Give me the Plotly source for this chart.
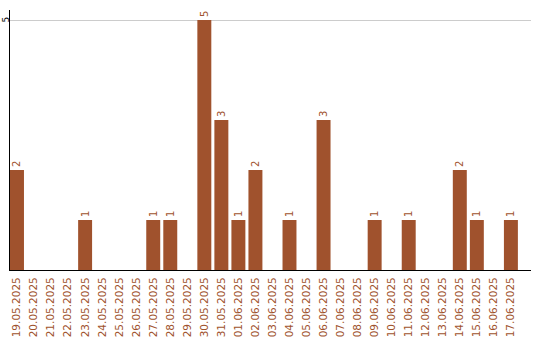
import plotly.graph_objects as go

dates = ["19.05.2025","20.05.2025","21.05.2025","22.05.2025","23.05.2025","24.05.2025",
         "25.05.2025","26.05.2025","27.05.2025","28.05.2025","29.05.2025","30.05.2025",
         "31.05.2025","01.06.2025","02.06.2025","03.06.2025","04.06.2025","05.06.2025",
         "06.06.2025","07.06.2025","08.06.2025","09.06.2025","10.06.2025","11.06.2025",
         "12.06.2025","13.06.2025","14.06.2025","15.06.2025","16.06.2025","17.06.2025"]
counts = [2,0,0,0,1,0,0,0,1,1,0,5,3,1,2,0,1,0,3,0,0,1,0,1,0,0,2,1,0,1]
labels = [str(v) if v else "" for v in counts]
y_ticks = [5]

BROWN = "#a0522d"
FONT = "DejaVu Sans"

fig = go.Figure(go.Bar(
    x=dates, y=counts, text=labels, textposition="outside", textangle=-90,
    textfont=dict(family=FONT, size=10, color=BROWN),
    marker=dict(color=BROWN, line=dict(width=0)), width=0.82,
    cliponaxis=False, hoverinfo="skip"))

for t in y_ticks:
    fig.add_annotation(text=str(t), xref="paper", x=-0.0086, xanchor="center",
                       yref="y", y=t, yanchor="middle", textangle=-90, showarrow=False,
                       borderpad=0, font=dict(family=FONT, size=9, color="black"))

fig.update_layout(
    width=540, height=340, margin=dict(l=10, r=9, t=10, b=70, autoexpand=False),
    paper_bgcolor="white", plot_bgcolor="white", showlegend=False,
    uniformtext=dict(mode=False),
    xaxis=dict(type="category", range=[-0.41, 30.18], tickangle=-90, ticks="",
               automargin=False, ticklabelstandoff=2,
               tickfont=dict(family=FONT, size=10.5, color=BROWN),
               showline=True, linecolor="black", linewidth=1, showgrid=False),
    yaxis=dict(range=[0, 5.2], tickvals=y_ticks, showticklabels=False, ticks="",
               automargin=False,
               showline=True, linecolor="black", linewidth=1,
               showgrid=True, gridcolor="#cccccc", gridwidth=1, zeroline=False),
)
fig.write_html("out.html")
